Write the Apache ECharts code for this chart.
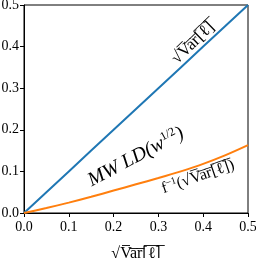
<!DOCTYPE html>
<html><head><meta charset="utf-8">
<script src="https://cdn.jsdelivr.net/npm/echarts@6/dist/echarts.min.js"></script>
<style>html,body{margin:0;padding:0;background:#fff}#c{width:256px;height:258px}</style>
</head><body><div id="c"></div>
<script>
var xVals = [0, 0.05, 0.1, 0.15, 0.2, 0.25, 0.3, 0.35, 0.4, 0.45, 0.5];
var sqrtVar = [0, 0.05, 0.1, 0.15, 0.2, 0.25, 0.3, 0.35, 0.4, 0.45, 0.5];
var fInv = [0, 0.012, 0.025, 0.039, 0.054, 0.069, 0.084, 0.100, 0.118, 0.139, 0.163];
var tickLabels = ['0.0', '0.1', '0.2', '0.3', '0.4', '0.5'];
var font = 'Liberation Serif';
var ov = '\u0305';
function overl(s){return s.split('').map(function(c){return c+ov;}).join('');}
var sqrtText = '\u221A' + overl('Var[\u2113]');

var chart = echarts.init(document.getElementById('c'), null, {renderer:'canvas'});
function pairs(xs, ys){return xs.map(function(x,i){return [x, ys[i]];});}
var axisCommon = {
  type:'value', min:0, max:0.5, interval:0.1,
  axisLine:{show:true, lineStyle:{color:'#000', width:1}},
  axisTick:{show:true, inside:false, length:4, lineStyle:{color:'#000'}},
  splitLine:{show:false},
  axisLabel:{fontFamily:font, fontSize:14, color:'#000',
    formatter:function(v){return tickLabels[Math.round(v*10)];}}
};
chart.setOption({
  animation:false,
  grid:{left:24, right:8, top:5, bottom:45, containLabel:false, outerBoundsMode:'none',
    show:true, borderColor:'#000', borderWidth:1, backgroundColor:'#fff'},
  xAxis: Object.assign({}, axisCommon, {
    name: sqrtText, nameLocation:'middle', nameGap:33,
    nameTextStyle:{fontFamily:font, fontSize:16, color:'#000'},
    axisLabel: Object.assign({}, axisCommon.axisLabel, {margin:7})
  }),
  yAxis: Object.assign({}, axisCommon, {
    axisLabel: Object.assign({}, axisCommon.axisLabel, {margin:5})
  }),
  series:[
    {type:'line', data:pairs(xVals, sqrtVar), symbol:'none', lineStyle:{color:'#1f77b4', width:2}, z:3},
    {type:'line', data:pairs(xVals, fInv), symbol:'none', smooth:0.3, lineStyle:{color:'#ff7f0e', width:2}, z:3}
  ],
  graphic:[
    {type:'text', x:193, y:43, rotation:44*Math.PI/180,
      style:{text:sqrtText, font:'17px "Liberation Serif"', fill:'#000', textAlign:'center', textVerticalAlign:'middle'}},
    {type:'text', x:136, y:157, rotation:28*Math.PI/180,
      style:{text:'{i|MW LD(w}{s|1/2}{i|)}', textAlign:'center', textVerticalAlign:'middle',
        rich:{i:{fontFamily:font, fontStyle:'italic', fontSize:20, color:'#000'},
              s:{fontFamily:font, fontSize:12, color:'#000', padding:[0,0,10,0]}}}},
    {type:'text', x:198, y:177, rotation:19*Math.PI/180,
      style:{text:'{n|f}{s|\u22121}{n|(' + sqrtText + ')}', textAlign:'center', textVerticalAlign:'middle',
        rich:{n:{fontFamily:font, fontSize:16, color:'#000'},
              s:{fontFamily:font, fontSize:10, color:'#000', padding:[0,0,8,0]}}}}
  ]
});
</script></body></html>
